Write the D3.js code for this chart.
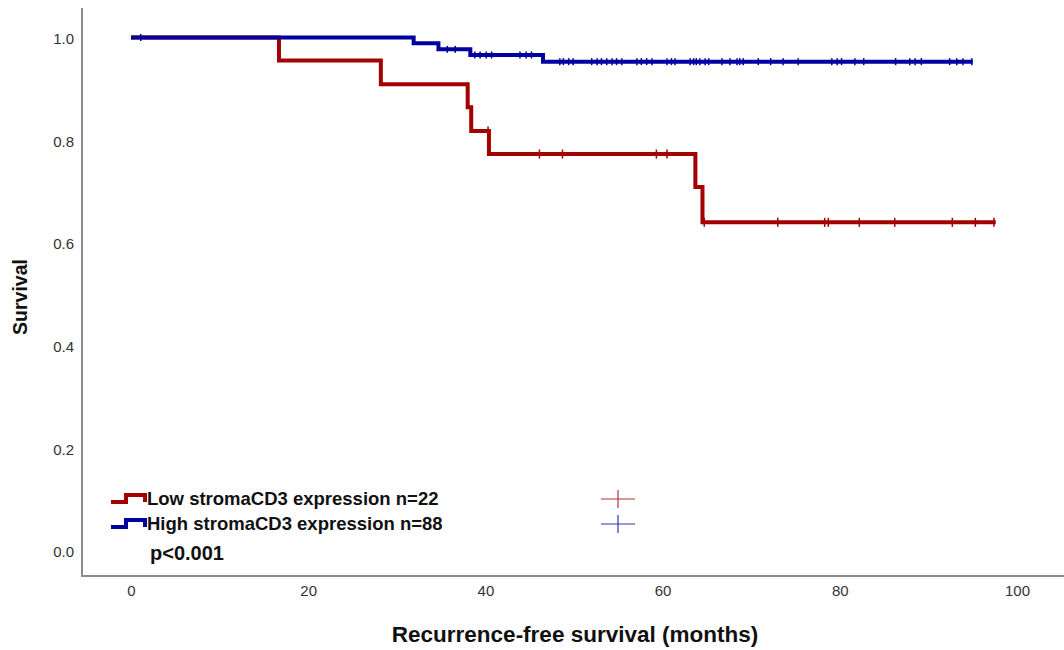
<!DOCTYPE html>
<html>
<head>
<meta charset="utf-8">
<script src="https://cdn.jsdelivr.net/npm/d3@7"></script>
<style>
  html, body { margin: 0; padding: 0; background: #fff; }
  svg { display: block; }
  text { font-family: "Liberation Sans", Arial, sans-serif; }
</style>
</head>
<body>
<svg id="chart" width="1064" height="650"></svg>
<script>
// Kaplan–Meier estimates for recurrence-free survival by stromal CD3 expression.
// Each curve: times where the estimate steps down, and the level reached there.
const lowStepTimes = [0, 16.7, 28.2, 38.0, 38.4, 40.4, 63.7, 64.5];
const lowStepSurvival = [1.0, 0.955, 0.909, 0.864, 0.818, 0.773, 0.709, 0.640];
const lowEndTime = 97.6;
const lowCensorTimes = [40.3, 46.1, 48.7, 59.3, 60.5, 64.7, 73.0, 78.3, 78.7, 82.2, 86.2, 92.7, 95.3, 97.4];

const highStepTimes = [0, 31.9, 34.7, 38.3, 46.5];
const highStepSurvival = [1.0, 0.989, 0.977, 0.966, 0.953];
const highEndTime = 95.0;
const highCensorTimes = [
  1.1, 35.7, 36.6, 38.8, 39.4, 40.1, 40.7, 43.9, 44.6, 45.2,
  48.4, 48.8, 49.4, 49.9, 52.0, 52.6, 53.1, 53.7, 54.3, 54.8, 55.4,
  57.1, 57.6, 58.2, 58.8, 60.5, 61.0, 61.4, 63.1, 63.5, 63.8, 64.2,
  64.8, 65.2, 66.7, 67.6, 68.4, 68.7, 69.1, 70.8, 72.2, 73.6, 75.3,
  79.1, 79.7, 80.2, 81.7, 82.7, 86.3, 87.9, 88.5, 89.2, 92.4, 93.2,
  93.9, 94.9
];

const xTicks = [0, 20, 40, 60, 80, 100];
const yTicks = [0.0, 0.2, 0.4, 0.6, 0.8, 1.0];

const groupLabels = ["Low stromaCD3 expression n=22", "High stromaCD3 expression n=88"];
const pValueLabel = "p<0.001";
const xTitle = "Recurrence-free survival (months)";
const yTitle = "Survival";

const RED = "#a30000";
const BLUE = "#0000a0";

const svg = d3.select("#chart");

const x = d3.scaleLinear().domain([0, 100]).range([131, 1017]);
const y = d3.scaleLinear().domain([0, 1]).range([551, 37.5]);

// Plot frame: only left and bottom edges
const frameLeft = 82, frameTop = 8, frameBottom = 576, frameRight = 1064;
svg.append("path")
  .attr("d", `M${frameLeft},${frameTop}V${frameBottom}H${frameRight}`)
  .attr("fill", "none")
  .attr("stroke", "#8c8c8c")
  .attr("stroke-width", 2);

// Tick labels (no tick marks drawn)
const yAxis = d3.axisLeft(y).tickValues(yTicks).tickFormat(d3.format(".1f")).tickSize(0).tickPadding(0);
svg.append("g")
  .attr("transform", "translate(74,1)")
  .call(yAxis)
  .call(g => g.select(".domain").remove())
  .call(g => g.selectAll("text")
    .attr("fill", "#333")
    .style("font-size", "15px")
    .style("font-family", "'Liberation Sans', Arial, sans-serif"));

const xAxis = d3.axisBottom(x).tickValues(xTicks).tickFormat(d3.format("d")).tickSize(0).tickPadding(0);
svg.append("g")
  .attr("transform", "translate(0,585)")
  .call(xAxis)
  .call(g => g.select(".domain").remove())
  .call(g => g.selectAll("text")
    .attr("fill", "#333")
    .style("font-size", "15px")
    .style("font-family", "'Liberation Sans', Arial, sans-serif"));

// Axis titles
svg.append("text")
  .attr("x", 575).attr("y", 642)
  .attr("text-anchor", "middle")
  .attr("font-weight", "bold")
  .attr("font-size", "22.5px")
  .attr("fill", "#111")
  .text(xTitle);

svg.append("text")
  .attr("transform", "translate(27,297) rotate(-90)")
  .attr("text-anchor", "middle")
  .attr("font-weight", "bold")
  .attr("font-size", "19.5px")
  .attr("fill", "#111")
  .text(yTitle);

// Survival step curves
function stepPoints(times, surv, endTime) {
  const pts = times.map((t, i) => [t, surv[i]]);
  pts.push([endTime, surv[surv.length - 1]]);
  return pts;
}
function levelAt(times, surv, t) {
  let s = surv[0];
  for (let i = 0; i < times.length; i++) if (times[i] <= t) s = surv[i];
  return s;
}

const line = d3.line().x(d => x(d[0])).y(d => y(d[1])).curve(d3.curveStepAfter);

// low group first so the high group sits on top where both are at 1.0
const series = [
  { times: lowStepTimes, surv: lowStepSurvival, end: lowEndTime, censor: lowCensorTimes, color: RED, mark: 4.5 },
  { times: highStepTimes, surv: highStepSurvival, end: highEndTime, censor: highCensorTimes, color: BLUE, mark: 3.5 }
];

series.forEach(s => {
  svg.append("path")
    .datum(stepPoints(s.times, s.surv, s.end))
    .attr("d", line)
    .attr("fill", "none")
    .attr("stroke", s.color)
    .attr("stroke-width", 4)
    .attr("stroke-linejoin", "miter");

  // Censoring marks
  svg.append("g").selectAll("line")
    .data(s.censor)
    .join("line")
    .attr("x1", d => x(d)).attr("x2", d => x(d))
    .attr("y1", d => y(levelAt(s.times, s.surv, d)) - s.mark)
    .attr("y2", d => y(levelAt(s.times, s.surv, d)) + s.mark)
    .attr("stroke", s.color)
    .attr("stroke-width", 1.5);
});

// Legend
const legendColors = [RED, BLUE];
const legendRows = [499, 524];
const legend = svg.append("g");
legendRows.forEach((cy, i) => {
  const c = legendColors[i];
  legend.append("path")
    .attr("d", `M111,${cy + 3}H126V${cy - 4}H145V${cy + 3}`)
    .attr("fill", "none")
    .attr("stroke", c)
    .attr("stroke-width", 4)
    .attr("stroke-linejoin", "miter");
  legend.append("text")
    .attr("x", 147).attr("y", cy + 6)
    .attr("font-weight", "bold")
    .attr("font-size", "18.5px")
    .attr("fill", "#111")
    .text(groupLabels[i]);
  // censor symbol
  legend.append("path")
    .attr("d", `M601,${cy}H635M618,${cy - 9}V${cy + 9}`)
    .attr("stroke", c)
    .attr("stroke-opacity", 0.8)
    .attr("stroke-width", 1.2);
});
legend.append("text")
  .attr("x", 150).attr("y", 560)
  .attr("font-weight", "bold")
  .attr("font-size", "20px")
  .attr("fill", "#111")
  .text(pValueLabel);
</script>
</body>
</html>
